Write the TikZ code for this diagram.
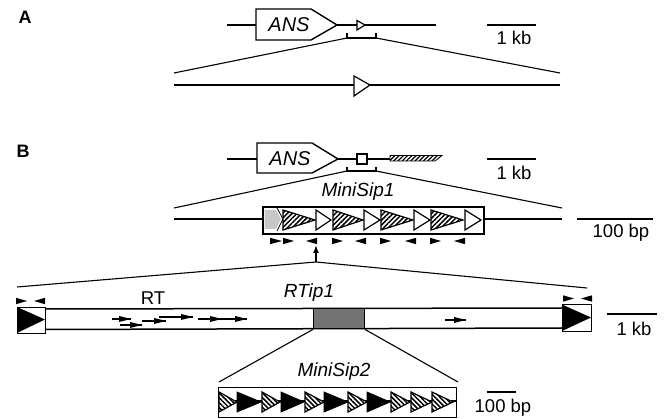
\documentclass[tikz,border=0pt]{standalone}
\usepackage{fontspec}
\setmainfont{Liberation Sans}
\usetikzlibrary{patterns.meta,arrows.meta}
\tikzset{
 x=1pt,y=-1pt,
 dna/.style={line width=1.5pt,black},
 thin line/.style={line width=1.1pt,black},
 lab/.style={inner sep=0pt,font=\fontsize{18.5}{18.5}\selectfont},
 ilab/.style={inner sep=0pt,font=\fontsize{19}{19}\selectfont\itshape},
 panel/.style={inner sep=0pt,font=\fontsize{18}{18}\selectfont\bfseries},
 white tri/.style={draw=black,line width=1.2pt,fill=white,line join=miter},
 black tri/.style={draw=black,line width=.8pt,fill=black},
 hatchA/.style={draw=black,line width=1.2pt,fill=white,postaction={pattern={Lines[angle=45,distance=3.4pt,line width=1.5pt]}}},
 hatchB/.style={draw=black,line width=1.2pt,fill=white,postaction={pattern={Lines[angle=-45,distance=3.4pt,line width=1.5pt]}}},
 box/.style={draw=black,line width=1.4pt,fill=white},
}
\newcommand{\tri}[4]{\path[#1] (#2,#4-10) -- (#3,#4) -- (#2,#4+10) -- cycle;}
\newcommand{\ptr}[3]{\fill[black] (#1,#3-3.2) -- (#2,#3) -- (#1,#3+3.2) -- cycle;}
\newcommand{\sar}[3]{\draw[line width=1.3pt] (#1,#3) -- (#2,#3); \fill[black] (#2-12,#3-3) -- (#2,#3) -- (#2-12,#3+3) -- cycle;}
\begin{document}
\begin{tikzpicture}
\useasboundingbox (0,0) rectangle (667,419);
% Panel labels
\node[panel] (pa) at (25,17) {A};
\node[panel] (pb) at (23,151) {B};
% --- A
\coordinate (a0) at (227,25); \coordinate (a1) at (436,25);
\draw[dna] (a0) -- (a1);
\path[box] (256,9) -- (311,9) -- (337,25) -- (311,40) -- (256,40) -- cycle;
\node[ilab,font=\fontsize{20}{20}\selectfont\itshape] (ansa) at (289,25) {ANS};
\path[white tri] (357,20.5) -- (365,25) -- (357,30) -- cycle;
\draw[thin line] (347,33) -- (347,38) -- (376,38) -- (376,33);
\coordinate (al) at (174,73); \coordinate (ar) at (560,73);
\draw[thin line] (347,38) -- (al);
\draw[thin line] (376,38) -- (ar);
\coordinate (c0) at (174,85); \coordinate (c1) at (560,85);
\draw[dna] (c0) -- (c1);
\path[white tri] (354,76) -- (370,85) -- (354,96) -- cycle;
\draw[thin line] (487,25) -- (536,25);
\node[lab] (kba) at (514,38) {1 kb};
% --- B top
\draw[dna] (227,159) -- (390,159);
\path[box] (257,143) -- (312,143) -- (338,159) -- (312,173) -- (257,173) -- cycle;
\node[ilab,font=\fontsize{20}{20}\selectfont\itshape] (ansb) at (290,158.5) {ANS};
\path[box,line width=1.2pt] (357,154) rectangle (367,164);
\path[draw=black,line width=.8pt,fill=white,postaction={pattern={Lines[angle=45,distance=3pt,line width=1.2pt]}}] (390,155.5) -- (442,155.5) -- (435,161) -- (390,161) -- cycle;
\draw[thin line] (347,167) -- (347,171) -- (376,171) -- (376,167);
\coordinate (bl) at (174,208); \coordinate (br) at (562,208);
\draw[thin line] (347,171) -- (bl);
\draw[thin line] (376,171) -- (br);
\node[ilab] (ms1) at (358,192) {MiniSip1};
\draw[thin line] (487,159) -- (536,159);
\node[lab] (kbb) at (514,173) {1 kb};
% --- MiniSip1
\draw[dna] (174,219) -- (262,219);
\draw[dna] (483,219) -- (562,219);
\node[box,line width=1.7pt,minimum width=221pt,minimum height=27pt,inner sep=0pt,anchor=north west] (ms1box) at (262,206) {};
\path[fill=black!22,draw=none] (264.5,210) -- (276,210) -- (281,219) -- (276,229) -- (264.5,229) -- cycle;
\draw[line width=.8pt,black] (277,208) -- (283,219) -- (277,231);
\tri{hatchA}{283}{315}{220}
\tri{white tri}{316}{331}{220}
\tri{hatchA}{333}{363}{220}
\tri{white tri}{364}{380}{220}
\tri{hatchA}{381}{413}{220}
\tri{white tri}{414}{430}{220}
\tri{hatchA}{431}{463}{220}
\tri{white tri}{465}{481}{220}
\ptr{270}{282}{241}\ptr{283}{294}{241}\ptr{317}{306}{241}
\ptr{332}{343}{241}\ptr{366}{355}{241}\ptr{380}{391}{241}
\ptr{416}{405}{241}\ptr{430}{441}{241}\ptr{465}{454}{241}
\coordinate (apex) at (316,262);
\coordinate (arrowtip) at (316,245);
\draw[line width=1.5pt,-{Latex[length=8pt,width=6pt]}] (apex) -- (arrowtip);
\draw[thin line] (17,287) -- (apex) -- (587,288);
\draw[thin line] (577,219) -- (653,219);
\node[lab] (bp1) at (621,233) {100 bp};
% --- RTip1
\node[lab] (rt) at (153,298) {RT};
\node[ilab] (rtip) at (309,293) {RTip1};
\ptr{16}{27}{301}\ptr{45}{34}{301}
\ptr{563}{574}{298.5}\ptr{592}{581}{298.5}
\draw[dna] (45,309) -- (562,308);
\draw[dna] (45,329.5) -- (562,328);
\node[fill=black!55,draw=black,line width=.9pt,minimum width=51pt,minimum height=20pt,inner sep=0pt,anchor=north west] (gray) at (313,308.5) {};
\node[box,line width=1.2pt,minimum width=28pt,minimum height=26pt,inner sep=0pt,anchor=north west] (lbox) at (17,307) {};
\fill[black] (17,307) -- (45,319.5) -- (17,333) -- cycle;
\node[box,line width=1.2pt,minimum width=29pt,minimum height=27pt,inner sep=0pt,anchor=north west] (rbox) at (562,304) {};
\fill[black] (562,304.5) -- (591,317.5) -- (562,331) -- cycle;
\sar{112}{131}{319}\sar{120}{142}{325}\sar{142}{166}{321}
\sar{159}{193}{317}\sar{198}{222}{319}\sar{222}{247}{319}\sar{445}{466}{320}
\draw[thin line] (607,314) -- (657,314);
\node[lab] (kbc) at (634,329) {1 kb};
% --- MiniSip2
\coordinate (zl) at (219,382); \coordinate (zr) at (458,382);
\draw[thin line] (gray.south west) -- (zl);
\draw[thin line] (gray.south east) -- (zr);
\node[ilab] (ms2) at (334,372) {MiniSip2};
\node[box,minimum width=238pt,minimum height=30pt,inner sep=0pt,anchor=north west] (ms2box) at (218,387) {};
\draw[line width=1.1pt] (218,401) -- (456,401);
\tri{hatchB}{219}{237}{402}
\tri{black tri}{237}{261}{402}
\tri{hatchB}{262}{280}{402}
\tri{black tri}{281}{304}{402}
\tri{hatchB}{305}{324}{402}
\tri{black tri}{324}{348}{402}
\tri{hatchB}{348}{367}{402}
\tri{black tri}{367}{390}{402}
\tri{hatchB}{391}{410}{402}
\tri{hatchB}{411}{432}{402}
\tri{hatchB}{432}{453}{402}
\draw[thin line] (487,392) -- (516,392);
\node[lab] (bp2) at (503,408) {100 bp};
\end{tikzpicture}
\end{document}
